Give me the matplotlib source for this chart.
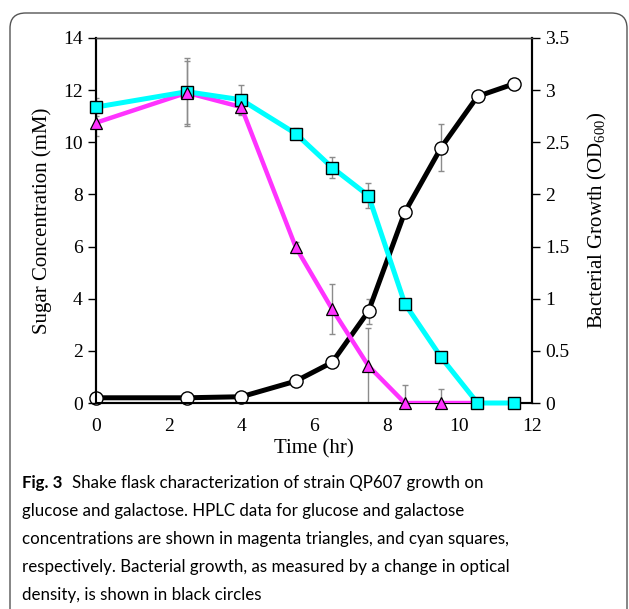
import matplotlib.pyplot as plt
from matplotlib.patches import FancyBboxPatch

# Data
time_hr = [0, 2.5, 4, 5.5, 6.5, 7.5, 8.5, 9.5, 10.5, 11.5]

glucose = [10.75, 11.9, 11.35, 5.97, 3.6, 1.42, 0.0, 0.0]            # magenta triangles (mM)
glucose_err = [0.5, 1.2, 0.3, 0.2, 0.95, 1.45, 0.7, 0.52]
galactose = [11.35, 11.94, 11.63, 10.33, 9.03, 7.95, 3.81, 1.75, 0.0, 0.0]  # cyan squares (mM)
galactose_err = [0.35, 1.3, 0.55, 0.22, 0.4, 0.48, 0.0, 0.0, 0.0, 0.0]
od600 = [0.05, 0.05, 0.06, 0.21, 0.39, 0.88, 1.83, 2.45, 2.94, 3.06]    # black circles
od600_err = [0.0, 0.0, 0.0, 0.0, 0.0, 0.12, 0.05, 0.23, 0.03, 0.0]

caption_lines = [
    "Shake flask characterization of strain QP607 growth on",
    "glucose and galactose. HPLC data for glucose and galactose",
    "concentrations are shown in magenta triangles, and cyan squares,",
    "respectively. Bacterial growth, as measured by a change in optical",
    "density, is shown in black circles",
]

serif = "Liberation Serif"
sans = ["Lato", "DejaVu Sans"]

plt.rcParams["mathtext.fontset"] = "custom"
plt.rcParams["mathtext.rm"] = serif
plt.rcParams["mathtext.it"] = serif

fig = plt.figure(figsize=(6.29, 6.09), dpi=100)

# caption frame
frame = FancyBboxPatch((10 / 629, -0.05), 617 / 629, 1 - 13 / 609 + 0.05,
                       boxstyle="round,pad=0,rounding_size=0.025",
                       transform=fig.transFigure, fill=False,
                       edgecolor="#555555", linewidth=1.0)
fig.patches.append(frame)

ax = fig.add_axes([96 / 629, 1 - 403 / 609, 436 / 629, 365 / 609])
ax2 = ax.twinx()

ecol = "#8c8c8c"
t_glu = time_hr[:len(glucose)]
ax.errorbar(t_glu, glucose, yerr=glucose_err, fmt="none", ecolor=ecol,
            elinewidth=1, capsize=2.5, zorder=2)
ax.errorbar(time_hr, galactose, yerr=galactose_err, fmt="none", ecolor=ecol,
            elinewidth=1, capsize=2.5, zorder=2)
ax.plot(t_glu + [10.5], glucose + [0.0], color="#ff33ff", lw=3.2, zorder=3)
ax.plot(t_glu, glucose, ls="none", marker="^", ms=9, mfc="#ff33ff",
        mec="black", mew=0.9, zorder=5, clip_on=False)
ax.plot(time_hr, galactose, color="#00ffff", lw=3.6, marker="s", ms=8.5,
        mfc="#00ffff", mec="black", mew=1.0, zorder=4, clip_on=False)

ax2.errorbar(time_hr, od600, yerr=od600_err, fmt="none", ecolor=ecol,
             elinewidth=1, capsize=2.5, zorder=2)
ax2.plot(time_hr, od600, color="black", lw=3.6, marker="o", ms=9.5,
         mfc="white", mec="black", mew=1.0, zorder=6, clip_on=False)

ax.set_zorder(ax2.get_zorder() + 1)
ax.patch.set_visible(False)

ax.set_xlim(0, 12)
ax.set_ylim(0, 14)
ax2.set_ylim(0, 3.5)
ax.set_xticks(range(0, 13, 2))
ax.set_yticks(range(0, 15, 2))
ax2.set_yticks([0, 0.5, 1, 1.5, 2, 2.5, 3, 3.5])
ax2.set_yticklabels(["0", "0.5", "1", "1.5", "2", "2.5", "3", "3.5"])

for a in (ax, ax2):
    for s in a.spines.values():
        s.set_linewidth(1.5)
    a.spines["top"].set_linewidth(1.0)
    a.spines["top"].set_color("#444444")
ax.tick_params(axis="x", length=0, pad=11, labelsize=14)
ax.tick_params(axis="y", direction="out", length=6, width=1, labelsize=14)
ax2.tick_params(axis="y", direction="out", length=6, width=1, labelsize=14)
for lab in ax.get_xticklabels() + ax.get_yticklabels() + ax2.get_yticklabels():
    lab.set_fontfamily(serif)

ax.set_xlabel("Time (hr)", fontsize=15, family=serif, labelpad=3)
ax.set_ylabel("Sugar Concentration (mM)", fontsize=15, family=serif, labelpad=8)
ax2.set_ylabel("Bacterial Growth (OD$_{600}$)", fontsize=15, family=serif,
               labelpad=12)

# caption
fs = 12.2
fig.text(22 / 629, 1 - 483 / 609, "Fig. 3", fontsize=fs, fontweight="bold",
         family=sans, va="center")
fig.text(72 / 629, 1 - 483 / 609, caption_lines[0], fontsize=fs,
         family=sans, va="center")
for i, line in enumerate(caption_lines[1:]):
    fig.text(22 / 629, 1 - (511 + 28 * i) / 609, line, fontsize=fs,
             family=sans, va="center")

fig.savefig("out.png", dpi=100)
